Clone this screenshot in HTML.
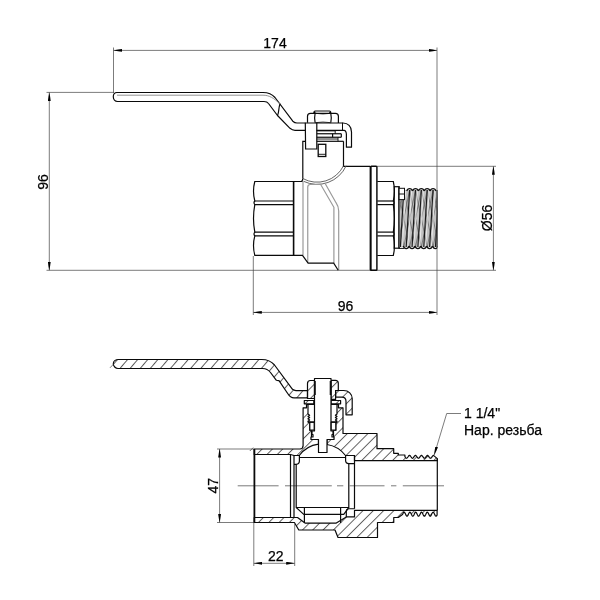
<!DOCTYPE html>
<html><head><meta charset="utf-8">
<style>
html,body{margin:0;padding:0;background:#fff;width:600px;height:600px;overflow:hidden}
svg{display:block;will-change:transform}
text{font-family:"Liberation Sans",sans-serif;fill:#000;stroke:#000;stroke-width:0.25}
</style></head>
<body>
<svg width="600" height="600" viewBox="0 0 600 600">
<defs>
<pattern id="hb" width="7.283" height="10" patternUnits="userSpaceOnUse" patternTransform="translate(7.8,0) rotate(45)"><line x1="0.5" y1="0" x2="0.5" y2="10" stroke="#222" stroke-width="0.75"/></pattern>
<pattern id="hb2" width="7.283" height="10" patternUnits="userSpaceOnUse" patternTransform="translate(-0.2,0) rotate(45)"><line x1="0.5" y1="0" x2="0.5" y2="10" stroke="#222" stroke-width="0.75"/></pattern>
<pattern id="hh" width="7.67" height="10" patternUnits="userSpaceOnUse" patternTransform="translate(0.74,0) rotate(40.6)"><line x1="0.5" y1="0" x2="0.5" y2="10" stroke="#222" stroke-width="0.75"/></pattern>
<marker id="ar" viewBox="0 0 8.5 2.8" refX="8.5" refY="1.4" markerWidth="8.5" markerHeight="2.8" markerUnits="userSpaceOnUse" orient="auto"><path d="M0,0 Q4,0.4 8.5,1.4 Q4,2.4 0,2.8 z" fill="#000"/></marker>
<marker id="al" viewBox="0 0 8.5 2.8" refX="0" refY="1.4" markerWidth="8.5" markerHeight="2.8" markerUnits="userSpaceOnUse" orient="auto"><path d="M8.5,0 Q4.5,0.4 0,1.4 Q4.5,2.4 8.5,2.8 z" fill="#000"/></marker>
</defs>

<!-- ============ TOP VIEW: DIMENSIONS ============ -->
<g stroke="#444" stroke-width="0.7" fill="none">
  <!-- 174 -->
  <line x1="113.5" y1="47.5" x2="113.5" y2="93"/>
  <line x1="437" y1="47.5" x2="437" y2="315"/>
  <line x1="113.5" y1="50.4" x2="437" y2="50.4" marker-start="url(#al)" marker-end="url(#ar)"/>
  <!-- 96 left -->
  <line x1="46.5" y1="92.4" x2="114" y2="92.4"/>
  <line x1="46.5" y1="270.3" x2="496" y2="270.3"/>
  <line x1="49.3" y1="92.4" x2="49.3" y2="270.3" marker-start="url(#al)" marker-end="url(#ar)"/>
  <!-- 96 bottom -->
  <line x1="253.3" y1="256" x2="253.3" y2="315"/>
  <line x1="253.3" y1="312.4" x2="437" y2="312.4" marker-start="url(#al)" marker-end="url(#ar)"/>
  <!-- 56 -->
  <line x1="377" y1="166.3" x2="496" y2="166.3"/>
  <line x1="493.4" y1="166.3" x2="493.4" y2="270.3" marker-start="url(#al)" marker-end="url(#ar)"/>
</g>
<text x="275" y="48" font-size="14" text-anchor="middle">174</text>
<text x="345.5" y="310.6" font-size="14" text-anchor="middle">96</text>
<text transform="translate(48,182) rotate(-90)" font-size="14" text-anchor="middle">96</text>
<text transform="translate(491.6,218) rotate(-90)" font-size="14" text-anchor="middle">Ø56</text>

<!-- ============ TOP VIEW: HANDLE ============ -->
<g stroke="#0a0a0a" stroke-width="1.2" fill="none" stroke-linejoin="round" stroke-linecap="round">
  <path d="M117,92.5 H263 C268,92.5 272,94 275,97.5 L292.8,121.2 C294.2,122.5 295.5,123 297,123 H343 C348,123 351.5,126.5 351.5,132 V147.2 H346.4 V134.5 C346.3,132 345.5,130.3 344,130.3 H317"/>
  <path d="M117,92.5 C114.5,92.5 113.3,94.5 113.3,96.8 C113.3,99.3 115,101.5 117.5,101.5 H264 C266,101.5 267.5,102 268.5,103.5 L277.5,115.5 L290,128.3 C291.5,129.6 293,130.3 295,130.3 H305.5"/>
  <path d="M280,104 C278.3,108 279.3,112 277.5,115.5"/>
</g>
<path d="M117,95.2 H263 C269,95.2 274,98 280,104" stroke="#777" stroke-width="0.8" fill="none"/>

<!-- nut -->
<g stroke="#0a0a0a" stroke-width="1.2" fill="none">
  <path d="M307.5,122.7 V116.3 Q307.5,113.3 310.5,113.3 H335.4 Q338.4,113.3 338.4,116.3 V123"/>
  <path d="M315.1,113.3 Q314.1,118 315.1,122.7"/>
  <path d="M330.8,113.3 Q331.8,118 330.8,122.7"/>
  <path d="M315.1,113.3 Q323,114.6 330.8,113.3" stroke-width="0.8"/>
  <path d="M315.1,122.7 Q323,121.4 330.8,122.7" stroke-width="0.8"/>
  <path d="M313.9,113.3 V112 Q313.9,111 315,111 H329.7 Q330.8,111 330.8,112 V113.3" stroke-width="1"/>
  <circle cx="314.6" cy="112.2" r="0.9" fill="#000" stroke="none"/>
  <circle cx="330.1" cy="112.2" r="0.9" fill="#000" stroke="none"/>
  <line x1="342.5" y1="122.7" x2="342.5" y2="130.3" stroke-width="1"/>
  <!-- stem block -->
  <path d="M305.3,122.7 L305.6,149 H316.8 V122.7"/>
  <!-- small plates -->
  <line x1="316.8" y1="130.9" x2="335.5" y2="130.9" stroke-width="0.9"/>
  <line x1="335.2" y1="130.3" x2="335.2" y2="133.75" stroke-width="0.9"/>
  <line x1="316.8" y1="133.75" x2="341.3" y2="133.75"/>
  <line x1="316.8" y1="137.25" x2="341.3" y2="137.25"/>
  <line x1="341.3" y1="133.75" x2="341.3" y2="137.25"/>
  <line x1="332.6" y1="133.75" x2="332.6" y2="137.25"/>
  <line x1="316.8" y1="139" x2="338" y2="139" stroke-width="0.9"/>
  <line x1="338" y1="137.25" x2="338" y2="141.3" stroke-width="0.9"/>
  <line x1="316.8" y1="141.3" x2="343.5" y2="141.3"/>
  <!-- neck -->
  <path d="M305.5,141.3 H302.8 V178.5"/>
  <path d="M343.5,141.3 V166.3 H370"/>
  <!-- pin -->
  <rect x="318.2" y="144.3" width="7.6" height="12.2" stroke-width="1.3"/>
  <line x1="318.2" y1="154.3" x2="325.8" y2="154.3" stroke-width="0.9"/>
</g>

<!-- ball arc (double) -->
<g stroke="#555" stroke-width="0.9" fill="none">
  <path d="M302.8,178.5 A29.5,29.5 0 0 0 343.5,165.8"/>
  <path d="M303.5,181.3 A32,32 0 0 0 346.2,165.8"/>
  <!-- body inner lines -->
  <g stroke="#9a9a9a" stroke-width="1.2">
  <path d="M303,181.5 V255.3"/>
  <path d="M307.75,263 V187 Q307.75,184.5 310.25,184.5 H320.7 L333.9,207.3 V263"/>
  <path d="M325.3,183.7 L336,202.7 Q338.7,206.5 338.7,211 V270"/>
  </g>
</g>

<!-- left hex nut -->
<g stroke="#0a0a0a" stroke-width="1.2" fill="none">
  <path d="M301.5,181.3 Q302.8,180.5 302.8,178.5"/>
  <path d="M302.5,181.5 H254.8 Q252.2,191.2 254.8,201 Q253.2,202.8 254.8,204.6 Q252.2,218.4 254.8,232.1 Q253.2,234 254.8,235.9 Q252.2,245.6 254.8,255.4 H302.5 L308.1,263.1 H333.7 L338.2,270.3"/>
  <line x1="254.8" y1="201" x2="293.5" y2="201"/>
  <line x1="254.8" y1="204.6" x2="293.5" y2="204.6"/>
  <line x1="254.8" y1="232.1" x2="293.5" y2="232.1"/>
  <line x1="254.8" y1="235.9" x2="293.5" y2="235.9"/>
  <line x1="293.6" y1="181.3" x2="293.6" y2="255.3" stroke-width="1.6"/>
</g>

<!-- flange + union hex -->
<g stroke="#0a0a0a" stroke-width="1.2" fill="none">
  <rect x="370.6" y="166.3" width="6.3" height="104" rx="0.8" stroke-width="1.45"/>
  <line x1="370.6" y1="166.3" x2="370.6" y2="270.3" stroke-width="1.8"/>
  <path d="M377.3,181.5 H393.3 Q395.6,191.2 393.3,201 Q394.7,202.8 393.3,204.6 Q395.6,218.4 393.3,232.1 Q394.7,234 393.3,235.9 Q395.6,245.6 393.3,255.5 H377.3"/>
  <line x1="377.3" y1="201" x2="393.3" y2="201"/>
  <line x1="377.3" y1="204.6" x2="393.3" y2="204.6"/>
  <line x1="377.3" y1="232.1" x2="393.3" y2="232.1"/>
  <line x1="377.3" y1="235.9" x2="393.3" y2="235.9"/>
  <rect x="394.2" y="186.7" width="5" height="61.5"/>
</g>

<!-- thread top view -->
<clipPath id="thc"><rect x="399.5" y="184" width="37.9" height="68"/></clipPath>
<g fill="none" clip-path="url(#thc)">
<rect x="399" y="190" width="38.5" height="57" fill="#c2c2c2" stroke="none"/>
<line x1="386.25" y1="190" x2="374.55" y2="247" stroke="#6a6a6a" stroke-width="0.8"/>
<line x1="386.25" y1="190" x2="397.95" y2="247" stroke="#6a6a6a" stroke-width="0.8"/>
<line x1="392.10" y1="190" x2="380.40" y2="247" stroke="#6a6a6a" stroke-width="0.8"/>
<line x1="392.10" y1="190" x2="403.80" y2="247" stroke="#6a6a6a" stroke-width="0.8"/>
<line x1="397.95" y1="190" x2="386.25" y2="247" stroke="#6a6a6a" stroke-width="0.8"/>
<line x1="397.95" y1="190" x2="409.65" y2="247" stroke="#6a6a6a" stroke-width="0.8"/>
<line x1="403.80" y1="190" x2="392.10" y2="247" stroke="#6a6a6a" stroke-width="0.8"/>
<line x1="403.80" y1="190" x2="415.50" y2="247" stroke="#6a6a6a" stroke-width="0.8"/>
<line x1="409.65" y1="190" x2="397.95" y2="247" stroke="#6a6a6a" stroke-width="0.8"/>
<line x1="409.65" y1="190" x2="421.35" y2="247" stroke="#6a6a6a" stroke-width="0.8"/>
<line x1="415.50" y1="190" x2="403.80" y2="247" stroke="#6a6a6a" stroke-width="0.8"/>
<line x1="415.50" y1="190" x2="427.20" y2="247" stroke="#6a6a6a" stroke-width="0.8"/>
<line x1="421.35" y1="190" x2="409.65" y2="247" stroke="#6a6a6a" stroke-width="0.8"/>
<line x1="421.35" y1="190" x2="433.05" y2="247" stroke="#6a6a6a" stroke-width="0.8"/>
<line x1="427.20" y1="190" x2="415.50" y2="247" stroke="#6a6a6a" stroke-width="0.8"/>
<line x1="427.20" y1="190" x2="438.90" y2="247" stroke="#6a6a6a" stroke-width="0.8"/>
<line x1="433.05" y1="190" x2="421.35" y2="247" stroke="#6a6a6a" stroke-width="0.8"/>
<line x1="433.05" y1="190" x2="444.75" y2="247" stroke="#6a6a6a" stroke-width="0.8"/>
<line x1="438.90" y1="190" x2="427.20" y2="247" stroke="#6a6a6a" stroke-width="0.8"/>
<line x1="438.90" y1="190" x2="450.60" y2="247" stroke="#6a6a6a" stroke-width="0.8"/>
<line x1="444.75" y1="190" x2="433.05" y2="247" stroke="#6a6a6a" stroke-width="0.8"/>
<line x1="444.75" y1="190" x2="456.45" y2="247" stroke="#6a6a6a" stroke-width="0.8"/>
<line x1="450.60" y1="190" x2="438.90" y2="247" stroke="#6a6a6a" stroke-width="0.8"/>
<line x1="450.60" y1="190" x2="462.30" y2="247" stroke="#6a6a6a" stroke-width="0.8"/>
<line x1="456.45" y1="190" x2="444.75" y2="247" stroke="#6a6a6a" stroke-width="0.8"/>
<line x1="456.45" y1="190" x2="468.15" y2="247" stroke="#6a6a6a" stroke-width="0.8"/>
<line x1="405.70" y1="191" x2="402.25" y2="246" stroke="#f4f4f4" stroke-width="0.8"/>
<line x1="403.80" y1="190" x2="400.35" y2="247" stroke="#1a1a1a" stroke-width="1.15"/>
<line x1="411.55" y1="191" x2="408.10" y2="246" stroke="#f4f4f4" stroke-width="0.8"/>
<line x1="409.65" y1="190" x2="406.20" y2="247" stroke="#1a1a1a" stroke-width="1.15"/>
<line x1="417.40" y1="191" x2="413.95" y2="246" stroke="#f4f4f4" stroke-width="0.8"/>
<line x1="415.50" y1="190" x2="412.05" y2="247" stroke="#1a1a1a" stroke-width="1.15"/>
<line x1="423.25" y1="191" x2="419.80" y2="246" stroke="#f4f4f4" stroke-width="0.8"/>
<line x1="421.35" y1="190" x2="417.90" y2="247" stroke="#1a1a1a" stroke-width="1.15"/>
<line x1="429.10" y1="191" x2="425.65" y2="246" stroke="#f4f4f4" stroke-width="0.8"/>
<line x1="427.20" y1="190" x2="423.75" y2="247" stroke="#1a1a1a" stroke-width="1.15"/>
<line x1="434.95" y1="191" x2="431.50" y2="246" stroke="#f4f4f4" stroke-width="0.8"/>
<line x1="433.05" y1="190" x2="429.60" y2="247" stroke="#1a1a1a" stroke-width="1.15"/>
<line x1="440.80" y1="191" x2="437.35" y2="246" stroke="#f4f4f4" stroke-width="0.8"/>
<line x1="438.90" y1="190" x2="435.45" y2="247" stroke="#1a1a1a" stroke-width="1.15"/>
<path d="M406.75,191 C407.65,187.8 411.65,187.8 412.55,191" stroke="#111" stroke-width="1.2"/>
<path d="M412.60,191 C413.50,187.8 417.50,187.8 418.40,191" stroke="#111" stroke-width="1.2"/>
<path d="M418.45,191 C419.35,187.8 423.35,187.8 424.25,191" stroke="#111" stroke-width="1.2"/>
<path d="M424.30,191 C425.20,187.8 429.20,187.8 430.10,191" stroke="#111" stroke-width="1.2"/>
<path d="M430.15,191 C431.05,187.8 435.05,187.8 435.95,191" stroke="#111" stroke-width="1.2"/>
<path d="M403.30,246 C404.20,249.4 408.20,249.4 409.10,246" stroke="#111" stroke-width="1.2"/>
<path d="M409.15,246 C410.05,249.4 414.05,249.4 414.95,246" stroke="#111" stroke-width="1.2"/>
<path d="M415.00,246 C415.90,249.4 419.90,249.4 420.80,246" stroke="#111" stroke-width="1.2"/>
<path d="M420.85,246 C421.75,249.4 425.75,249.4 426.65,246" stroke="#111" stroke-width="1.2"/>
<path d="M426.70,246 C427.60,249.4 431.60,249.4 432.50,246" stroke="#111" stroke-width="1.2"/>
<path d="M432.55,246 C433.45,249.4 437.45,249.4 438.35,246" stroke="#111" stroke-width="1.2"/>
</g>
<g stroke="#111" stroke-width="1" fill="none">
<rect x="399" y="188.3" width="5.5" height="11.3" fill="#fff"/>
<path d="M399,194 H404.5"/>
<path d="M398.8,186.8 V248.4 H404"/>
<line x1="437" y1="190" x2="437" y2="247" stroke="#333" stroke-width="1.2"/>
</g>

<!-- ============ BOTTOM VIEW (SECTION) ============ -->
<!-- dims -->
<g stroke="#444" stroke-width="0.7" fill="none">
  <line x1="217" y1="449" x2="254" y2="449"/>
  <line x1="217" y1="522.5" x2="254" y2="522.5"/>
  <line x1="219.6" y1="449" x2="219.6" y2="522.5" marker-start="url(#al)" marker-end="url(#ar)"/>
  <line x1="253.8" y1="523" x2="253.8" y2="566"/>
  <line x1="294.7" y1="524" x2="294.7" y2="566"/>
  <line x1="253.8" y1="563.3" x2="294.7" y2="563.3" marker-start="url(#al)" marker-end="url(#ar)"/>
  <path d="M434.2,455 L446.7,413.5 H461" marker-start="url(#al)"/>
  <path d="M237.7,485.8 H278.6 M285,485.8 H331.8 M337,485.8 H343.3 M349.7,485.8 H384.5 M391,485.8 H396.4 M402.8,485.8 H444" stroke="#7a7a7a" stroke-width="1"/>
  <path d="M249.8,451 L253.2,447.6" stroke="#333" stroke-width="0.7"/>
</g>
<text transform="translate(217.5,485.7) rotate(-90)" font-size="14" text-anchor="middle">47</text>
<text x="275.8" y="561.3" font-size="14" text-anchor="middle">22</text>
<text x="464" y="418" font-size="14">1 1/4"</text>
<text x="464" y="435.3" font-size="14">Нар. резьба</text>

<!-- hatched regions -->
<g fill="url(#hh)" stroke="#0a0a0a" stroke-width="1.2" stroke-linejoin="round">
  <path d="M118.5,359.5 H261.7 C267,359.5 271.5,361.5 274.5,365 L292.5,389.3 C293.7,390.3 294.5,390.6 296,390.6 H307.5 V397.9 H294 C291.5,397.9 289.5,396.5 287.7,393.5 L279,380.6 Q277.5,380.8 276,379.9 L270.5,372.5 C268.5,370 266,368.5 262.8,368.5 H118 C115.5,368.5 113.3,366 113.3,363.8 C113.3,361.5 115.5,359.5 118.5,359.5 Z"/>
  <path d="M110,367.8 L113.8,363.8" fill="none" stroke="#444" stroke-width="0.7"/>
</g>
<g fill="url(#hb)" stroke="#0a0a0a" stroke-width="1.2" stroke-linejoin="round">
  <!-- nut left / right with tab -->
  <path d="M314.5,380.5 H310.5 Q307.5,380.5 307.5,383.5 V398.5 H314.5 Z"/>
  <path d="M331,380.3 H335.3 Q338.3,380.3 338.3,383.3 V390.5 H335.6 V399.4 H331 Z"/>
  <path d="M335.6,390.5 H343.7 C348.5,390.5 352.2,394 352.2,398.5 V414.8 H346 V401.5 C346,399 344.5,397.2 342,397.2 H335.6 Z"/>
  <!-- washers -->
  <path d="M304.3,400.5 H313.8 V403.8 H304.3 Z"/>
  <path d="M331,400.5 H340.6 V403.8 H331 Z"/>
  <!-- left body -->
  <path fill="url(#hb2)" d="M254.2,449 H300 Q303.1,448.7 303.1,445.5 V407.8 H306.5 V404.5 H308 V414 L309.6,415.2 L308,416.4 L309.6,417.6 L308,418.8 L309.6,420 L308,421.2 V422.1 H309.8 V430.2 H311.5 V439.5 H318.5 V444.2 A29,29 0 0 0 299.3,455.5 H294 L290.5,454.5 H254.2 Z"/>
  <!-- right body -->
  <path d="M327,444.5 V439.5 H333.5 V430.2 H335.8 V422.1 H337 V421.2 L335.4,420 L337,418.8 L335.4,417.6 L337,416.4 L335.4,415.2 L337,414 V404.5 H338.5 V407.8 H343 V433.5 H369.7 L377,433.5 V448.7 H393.7 V453.3 H398.3 V455 H404.9 L404.90,456.70 L405.40,457.44 L405.90,458.03 L406.41,458.29 L406.91,458.17 L407.41,457.69 L407.91,456.99 L408.41,456.24 L408.91,455.66 L409.42,455.41 L409.92,455.54 L410.42,456.02 L410.92,456.73 L411.42,457.47 L411.92,458.04 L412.43,458.30 L412.93,458.16 L413.43,457.67 L413.93,456.95 L414.43,456.21 L414.94,455.65 L415.44,455.40 L415.94,455.55 L416.44,456.05 L416.94,456.76 L417.44,457.50 L417.95,458.06 L418.45,458.30 L418.95,458.14 L419.45,457.64 L419.95,456.92 L420.45,456.19 L420.96,455.63 L421.46,455.40 L421.96,455.56 L422.46,456.07 L422.96,456.79 L423.46,457.53 L423.97,458.08 L424.47,458.30 L424.97,458.13 L425.47,457.61 L425.97,456.89 L426.48,456.16 L426.98,455.61 L427.48,455.40 L427.98,455.58 L428.48,456.10 L428.98,456.83 L429.49,457.56 L429.99,458.10 L430.49,458.30 L430.99,458.11 L431.49,457.58 L431.99,456.86 L432.50,456.13 L433.00,455.60 L433.50,455.40 L437.3,458.6 V460.7 H354.5 V455.5 H345.5 A29,29 0 0 0 327,444.5 Z"/>
  <!-- bottom body -->
  <path d="M254.2,517.5 H297.5 L305,523.1 H336.3 L346.3,516.9 H354.5 V510.4 H437.1 V513 L437.10,514.96 L436.60,515.83 L436.10,516.24 L435.60,516.06 L435.09,515.34 L434.59,514.29 L434.09,513.22 L433.59,512.43 L433.09,512.15 L432.59,512.46 L432.09,513.27 L431.58,514.35 L431.08,515.38 L430.58,516.08 L430.08,516.23 L429.58,515.80 L429.08,514.91 L428.58,513.81 L428.07,512.83 L427.57,512.24 L427.07,512.21 L426.57,512.76 L426.07,513.72 L425.57,514.82 L425.07,515.74 L424.56,516.22 L424.06,516.11 L423.56,515.46 L423.06,514.44 L422.56,513.36 L422.06,512.51 L421.56,512.15 L421.05,512.39 L420.55,513.14 L420.05,514.20 L419.55,515.26 L419.05,516.01 L418.55,516.25 L418.04,515.89 L417.54,515.05 L417.04,513.96 L416.54,512.94 L416.04,512.29 L415.54,512.18 L415.04,512.66 L414.53,513.58 L414.03,514.68 L413.53,515.64 L413.03,516.19 L412.53,516.16 L412.03,515.57 L411.53,514.59 L411.02,513.49 L410.52,512.60 L410.02,512.17 L409.52,512.32 L409.02,513.02 L408.52,514.05 L408.02,515.13 L407.51,515.94 L407.01,516.25 L406.51,515.97 L406.01,515.18 L405.51,514.11 L405.01,513.06 L404.51,512.34 L404.00,512.16 L403.50,512.56 L403.00,513.44 L402.50,514.53 L398.3,517.5 H393.75 V522.5 H377.5 V537.5 H338 L335,530 H298.8 L294.4,522.5 H254.2 Z"/>
</g>

<!-- stem -->
<g stroke="#0a0a0a" stroke-width="1.2" fill="#fff" stroke-linejoin="round">
  <path d="M314.5,378.5 H331 V431 H333 V434.5 H332 V437 H334 V439.5 H327 V452.5 H318.5 V439.5 H311 V437 H313 V434.5 H312 V431 H314.5 Z"/>
  <rect x="309.8" y="422.1" width="4.4" height="8.1"/>
  <rect x="331.2" y="422.1" width="4.6" height="8.1"/>
  <path d="M308,404.5 H314 M308,422.1 H314 M331,404.5 H337 M331,422.1 H337" fill="none"/>
</g>
<g stroke="#111" stroke-width="1.6" fill="none">
  <path d="M315,381 V395"/><path d="M330.5,381 V395"/>
</g>

<!-- female end & ball -->
<g stroke="#0a0a0a" stroke-width="1.2" fill="none" stroke-linejoin="round">
  <line x1="254.4" y1="449" x2="254.4" y2="522.5" stroke-width="1.8"/>
  <line x1="290.5" y1="454.5" x2="290.5" y2="517.5"/>
  <line x1="294" y1="455.5" x2="294" y2="517.5"/>
  <!-- seats -->
  <path d="M294,455.5 H299.4 V461 Q299.4,464 296.2,464.3 H294"/>
  <path d="M296.2,464.3 V507.5 H348.8 V463.5"/>
  <path d="M345.6,455.5 H354.5 V508.75 M345.6,455.5 V460.5 Q345.6,463.5 348.8,463.6 H354.5"/>
  <path d="M346.3,516.9 V511.5 Q346.3,508.75 349,508.75 H354.5"/>
  <line x1="299.4" y1="457.5" x2="345.6" y2="457.5"/>
  <path d="M296.2,507.5 L303.75,514.4 H343.75 L348.8,507.5"/>
  <!-- slot -->
  <path d="M304.4,507.5 V523.1 M340.6,507.5 V523.1"/>
  <!-- right bore -->
  <line x1="437.3" y1="458.6" x2="437.3" y2="510.4"/>
</g>

</svg>
</body></html>
